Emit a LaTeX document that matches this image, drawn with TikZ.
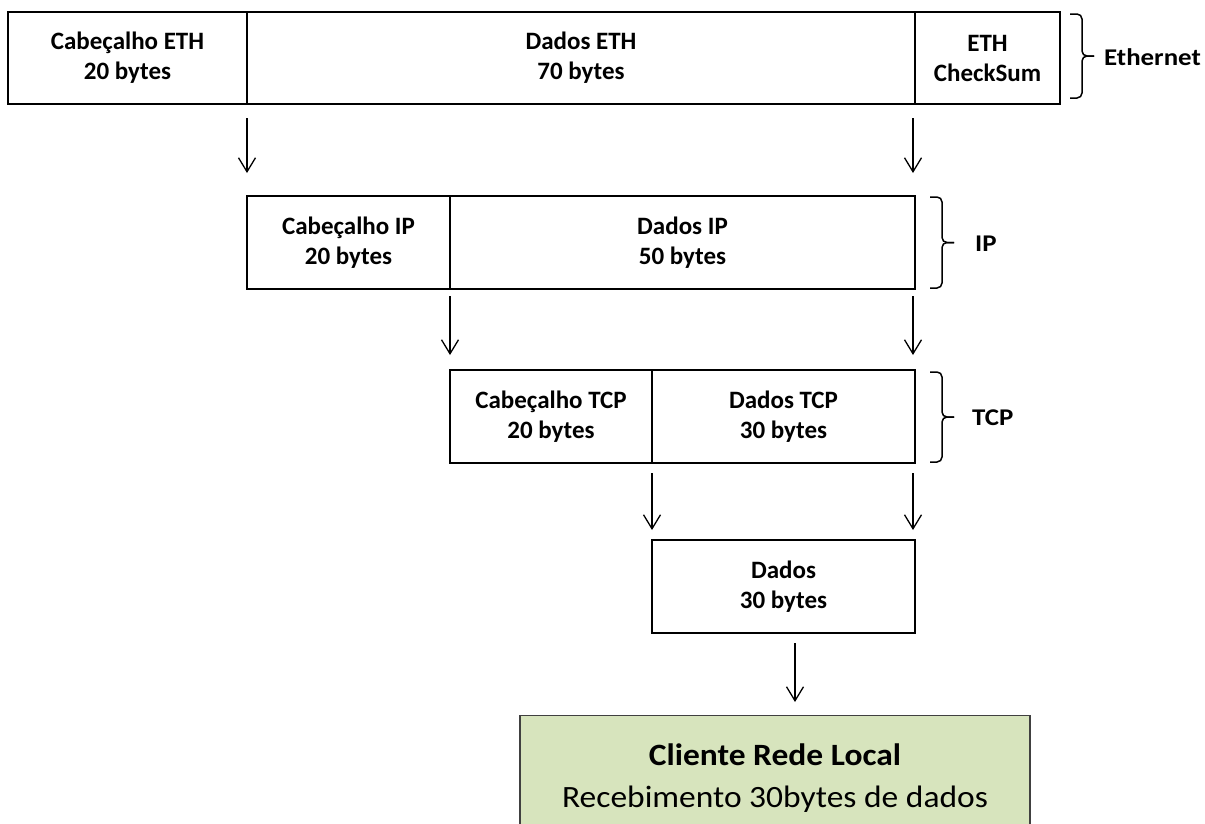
\documentclass[tikz,border=0pt]{standalone}
\usepackage{fontspec}
\setmainfont{Carlito}
\newfontfamily\widefont[FakeStretch=1.08]{Carlito}
\newfontfamily\labelfont[FakeStretch=1.12]{Carlito}
\usetikzlibrary{arrows.meta}
\definecolor{clientgreen}{HTML}{D7E4BD}
% bracket grouping the fields of one protocol layer: x-left, y-top, y-bottom
\newcommand{\layerbracket}[3]{%
  \draw[bracketline] (#1,#2) -- (#1+12,#2) -- (#1+12,{(#2+#3)/2}) -- (#1+24,{(#2+#3)/2});
  \draw[bracketline] (#1,#3) -- (#1+12,#3) -- (#1+12,{(#2+#3)/2}) -- (#1+24,{(#2+#3)/2});
}
\begin{document}
\begin{tikzpicture}[x=1pt,y=-1pt,
  cell/.style={draw=black, line width=2pt, inner sep=0pt, align=center,
    font=\bfseries\fontsize{25}{30}\selectfont},
  arr/.style={-{Straight Barb[length=14pt,width=17pt]}, line width=1.3pt},
  bracketline/.style={line width=1.5pt, rounded corners=5pt},
  layerlabel/.style={anchor=west, inner sep=0pt, font=\labelfont\bfseries\fontsize{24}{28}\selectfont},
  client/.style={draw=black!75, line width=1.3pt, fill=clientgreen, inner sep=0pt},
  clienttext/.style={anchor=base, inner sep=0pt, font=\widefont\fontsize{31}{42}\selectfont}]
\useasboundingbox (0,0) rectangle (1205,823);

% Ethernet frame
\node[cell, minimum width=239, minimum height=92] (eh) at (127.5,58) {Cabeçalho ETH\\20 bytes};
\node[cell, minimum width=668, minimum height=92] (ed) at (581,58) {Dados ETH\\70 bytes};
\node[cell, minimum width=145, minimum height=92] (ec) at (987.5,58) {ETH\\CheckSum};

% IP packet
\node[cell, minimum width=203, minimum height=93] (ih) at (348.5,242.5) {Cabeçalho IP\\20 bytes};
\node[cell, minimum width=465, minimum height=93] (id) at (682.5,242.5) {Dados IP\\50 bytes};

% TCP segment
\node[cell, minimum width=202, minimum height=93] (th) at (551,416.5) {Cabeçalho TCP\\20 bytes};
\node[cell, minimum width=263, minimum height=93] (td) at (783.5,416.5) {Dados TCP\\30 bytes};

% Payload
\node[cell, minimum width=263, minimum height=93] (dd) at (783.5,586.5) {Dados\\30 bytes};

% Receiving client (runs past the lower edge)
\begin{scope}
\clip (0,0) rectangle (1205,823);
\node[client, minimum width=510, minimum height=140, anchor=north] (cl) at (775,715) {};
\end{scope}
\node[clienttext] (cltitle) at (775,765) {\bfseries Cliente Rede Local};
\node[clienttext] (clsub) at (775,807) {Recebimento 30bytes de dados};

% Decapsulation arrows
\coordinate (a1) at ([xshift=-1pt]eh.south east);
\coordinate (a2) at ([xshift=-3pt]ed.south east);
\coordinate (a3) at ([xshift=-1pt]ih.south east);
\coordinate (a4) at ([xshift=-3pt]id.south east);
\coordinate (a5) at ([xshift=-1pt]th.south east);
\coordinate (a6) at ([xshift=-3pt]td.south east);
\coordinate (a7) at ([xshift=11.5pt]dd.south);
\draw[arr, shorten <=13pt, shorten >=22pt] (a1) -- (a1 |- ih.north);
\draw[arr, shorten <=13pt, shorten >=22pt] (a2) -- (a2 |- id.north);
\draw[arr, shorten <=6pt, shorten >=14pt] (a3) -- (a3 |- th.north);
\draw[arr, shorten <=6pt, shorten >=14pt] (a4) -- (a4 |- td.north);
\draw[arr, shorten <=9pt, shorten >=9pt] (a5) -- (a5 |- dd.north);
\draw[arr, shorten <=9pt, shorten >=9pt] (a6) -- (a6 |- dd.north);
\draw[arr, shorten <=9pt, shorten >=13pt] (a7) -- (a7 |- cl.north);

% Layer brackets and names
\layerbracket{1070}{14}{98}
\layerbracket{930}{197}{288}
\layerbracket{930}{372}{462}
\node[layerlabel] (eth) at (1104,57) {Ethernet};
\node[layerlabel] (ip) at (975,244) {IP};
\node[layerlabel] (tcp) at (972,418) {TCP};
\end{tikzpicture}
\end{document}
